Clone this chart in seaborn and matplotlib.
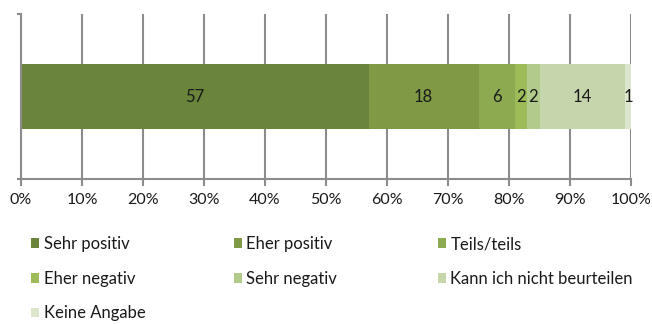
import matplotlib
matplotlib.use("Agg")
import matplotlib.pyplot as plt
from matplotlib.patches import Rectangle
import numpy as np
import pandas as pd
import seaborn as sns

# Survey answer shares (percent)
categories = ["Sehr positiv", "Eher positiv", "Teils/teils", "Eher negativ",
              "Sehr negativ", "Kann ich nicht beurteilen", "Keine Angabe"]
values = [57, 18, 6, 2, 2, 14, 1]
colors = ["#6b843c", "#7f9945", "#8eaa51", "#9dbb59",
          "#b2ca8b", "#c6d6ac", "#dce6cd"]
x_ticks = [0, 10, 20, 30, 40, 50, 60, 70, 80, 90, 100]
x_tick_labels = ["0%", "10%", "20%", "30%", "40%", "50%", "60%", "70%",
                 "80%", "90%", "100%"]

sns.set_theme(style="white")
plt.rcParams["font.family"] = ["Lato", "DejaVu Sans"]

W, H = 652, 324
fig = plt.figure(figsize=(W / 100, H / 100), dpi=100)
ax = fig.add_axes([21 / W, 1 - 179 / H, (631 - 21) / W, (179 - 14) / H])

cum = np.cumsum(values)
df = pd.DataFrame({"cat": categories, "value": values, "cum": cum, "row": [""] * len(values)})

# Stacked bar: draw cumulative totals from the widest down so each segment shows
for i in reversed(range(len(df))):
    sns.barplot(data=df.iloc[[i]], x="cum", y="row", color=colors[i], orient="h",
                width=0.39, saturation=1, linewidth=0, ax=ax, zorder=2)

for i, row in df.iterrows():
    ax.text(row["cum"] - row["value"] / 2, 0, str(row["value"]), ha="center",
            va="center", fontsize=12, color="#1a1a1a", zorder=3)

grid_c = "#8c8c8c"
ax.set_xlim(0, 100)
ax.set_ylim(0.5, -0.5)
ax.set_xticks(x_ticks)
ax.set_xticklabels(x_tick_labels, fontsize=11.5, color="#1a1a1a")
ax.set_yticks([-0.5, 0.5])
ax.set_yticklabels([])
ax.set_xlabel("")
ax.set_ylabel("")
ax.xaxis.grid(True, color=grid_c, linewidth=1.5, zorder=1)
ax.set_axisbelow(True)
ax.tick_params(axis="x", length=5, width=1.5, color=grid_c, direction="out", pad=5, bottom=True)
ax.tick_params(axis="y", length=3, width=1.5, color=grid_c, direction="out", left=True)
for side in ["top", "right"]:
    ax.spines[side].set_visible(False)
for side in ["left", "bottom"]:
    ax.spines[side].set_color(grid_c)
    ax.spines[side].set_linewidth(1.5)

# Legend laid out in three columns, filled row by row
handles = [Rectangle((0, 0), 1, 1, facecolor=c, edgecolor="none") for c in colors]
col_x = [31, 234, 438]
for c in range(3):
    idx = list(range(c, len(categories), 3))
    fig.legend([handles[i] for i in idx], [categories[i] for i in idx],
               loc="upper left", bbox_to_anchor=(col_x[c] / W, 1 - 236 / H),
               ncol=1, frameon=False, fontsize=12, handlelength=0.5,
               handleheight=0.5, handletextpad=0.25, labelspacing=1.12,
               borderpad=0, borderaxespad=0, labelcolor="#1a1a1a")

fig.savefig("out.png", dpi=100)
